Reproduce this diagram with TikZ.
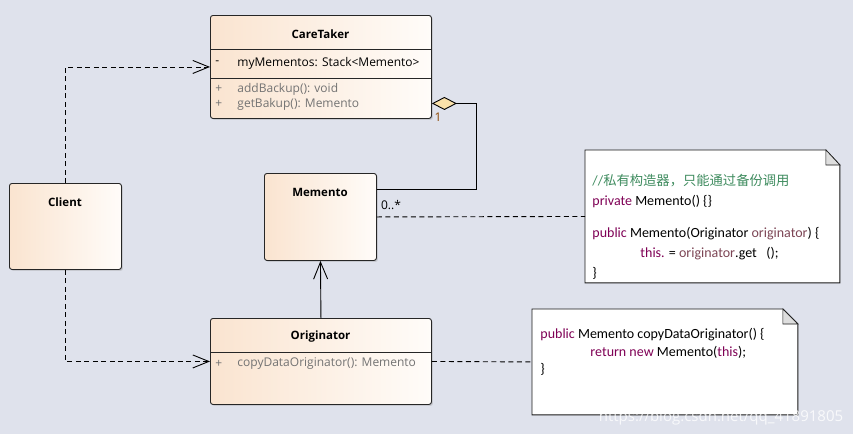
\documentclass[tikz,border=0pt]{standalone}
\usepackage{fontspec}
\setmainfont{Open Sans}
\newfontfamily\notefont{Carlito}
\newfontfamily\cjk{Noto Sans CJK SC}
\usetikzlibrary{arrows.meta,shadows}

\definecolor{bgblue}{RGB}{223,226,236}
\definecolor{peach}{RGB}{250,228,208}
\definecolor{cream}{RGB}{255,252,249}
\definecolor{kwpurple}{RGB}{127,0,85}
\definecolor{argbrown}{RGB}{125,70,85}
\definecolor{cmtgreen}{RGB}{63,140,95}
\definecolor{opgrey}{RGB}{115,115,115}
\definecolor{diamondfill}{RGB}{250,225,170}
\definecolor{multbrown}{RGB}{140,70,0}
\definecolor{foldgrey}{RGB}{222,222,222}

\begin{document}
\begin{tikzpicture}[x=1pt, y=-1pt, line width=0.9pt,
  classbox/.style={draw=black!85, rounded corners=2.5pt, left color=peach, right color=cream,
    anchor=north west, inner sep=0pt,
    drop shadow={shadow xshift=1.5pt, shadow yshift=-1.5pt, opacity=.25, fill=black!50}},
  classname/.style={inner sep=0pt, font=\bfseries\fontsize{11.5}{13}\selectfont},
  member/.style={anchor=west, inner sep=0pt, font=\fontsize{12}{14}\selectfont},
  notebox/.style={anchor=north west, inner sep=0pt},
  notetext/.style={anchor=west, inner sep=0pt, font=\notefont\fontsize{14}{16}\selectfont},
  dep/.style={dash pattern=on 5pt off 3.5pt, -{Straight Barb[length=16pt, width=13pt]}},
  assoc/.style={-{Straight Barb[length=17pt, width=14pt]}},
  agg/.style={-{Diamond[length=25pt, width=13pt, fill=diamondfill]}},
  noteline/.style={dash pattern=on 5pt off 3.5pt}]

  \useasboundingbox (0,0) rectangle (853,434);
  \fill[bgblue] (0,0) rectangle (853,434);

  % classes
  \node[classbox, minimum width=112, minimum height=86] (client) at (9,183) {};
  \node[classname] at (65,202) {Client};

  \node[classbox, minimum width=221, minimum height=103] (caretaker) at (210,15) {};
  \node[classname] at (320.5,34.5) {CareTaker};
  \draw[black!85] (caretaker.west |- 0,49) -- (caretaker.east |- 0,49);
  \draw[black!85] (caretaker.west |- 0,78) -- (caretaker.east |- 0,78);
  \node[member] at (215,63) {-};
  \node[member] at (237,63) {myMementos: Stack<Memento>};
  \node[member, opgrey] at (215,89) {+};
  \node[member, opgrey] at (237,89) {addBackup(): void};
  \node[member, opgrey] at (215,104) {+};
  \node[member, opgrey] at (237,104) {getBakup(): Memento};

  \node[classbox, minimum width=112, minimum height=87] (memento) at (264,173) {};
  \node[classname] at (320,192) {Memento};

  \node[classbox, minimum width=221, minimum height=86] (originator) at (210,318) {};
  \node[classname] at (320.5,337) {Originator};
  \draw[black!85] (originator.west |- 0,352) -- (originator.east |- 0,352);
  \node[member, opgrey] at (215,364) {+};
  \node[member, opgrey] at (237,364) {copyDataOriginator(): Memento};

  % notes
  \node[notebox, minimum width=254, minimum height=132] (note1) at (585,150) {};
  \filldraw[fill=white, draw=black!90] (note1.north west) -- ([xshift=-14pt]note1.north east)
    -- ([yshift=-15pt]note1.north east) -- (note1.south east) -- (note1.south west) -- cycle;
  \filldraw[fill=foldgrey, draw=black!90, line width=.6pt] ([xshift=-14pt]note1.north east)
    -- ([xshift=-14pt, yshift=-15pt]note1.north east) -- ([yshift=-15pt]note1.north east) -- cycle;
  \node[notetext] at (592,181) {\color{cmtgreen}//{\cjk\fontsize{13.3}{16}\selectfont 私有构造器，只能通过备份调用}};
  \node[notetext] at (592,202) {{\color{kwpurple}private} Memento() \{\}};
  \node[notetext] at (592,234) {{\color{kwpurple}public} Memento(Originator {\color{argbrown}originator}) \{};
  \node[notetext] at (640,254) {{\color{kwpurple}this.} = {\color{argbrown}originator}.get\ \ \ ();};
  \node[notetext] at (592,273) {\}};

  \node[notebox, minimum width=265, minimum height=105] (note2) at (532,309) {};
  \filldraw[fill=white, draw=black!90] (note2.north west) -- ([xshift=-15pt]note2.north east)
    -- ([yshift=-15pt]note2.north east) -- (note2.south east) -- (note2.south west) -- cycle;
  \filldraw[fill=foldgrey, draw=black!90, line width=.6pt] ([xshift=-15pt]note2.north east)
    -- ([xshift=-15pt, yshift=-15pt]note2.north east) -- ([yshift=-15pt]note2.north east) -- cycle;
  \node[notetext] at (540,335) {{\color{kwpurple}public} Memento copyDataOriginator() \{};
  \node[notetext] at (590,352) {{\color{kwpurple}return new} Memento({\color{kwpurple}this});};
  \node[notetext] at (540,369) {\}};

  % connectors
  \draw[dep] (client.north) |- (caretaker.west);
  \draw[dep] (client.south) |- (originator.west);
  \draw[assoc] (originator.north) -- (memento.south);
  \draw[agg] ([yshift=27.5pt]memento.east) -- ++(100,0) |- ([yshift=-36.5pt]caretaker.east);
  \node[inner sep=0pt, multbrown, font=\fontsize{12}{14}\selectfont] at (438,117) {1};
  \node[inner sep=0pt, font=\fontsize{12}{14}\selectfont] at (391,205) {0..*};
  \draw[noteline] (memento.east) -- (note1.west);
  \draw[noteline] (originator.east) -- (note2.west);

  \node[inner sep=0pt, white, opacity=.8, font=\fontsize{15}{17}\selectfont] at (721,418) {https://blog.csdn.net/qq\_41891805};
\end{tikzpicture}
\end{document}
